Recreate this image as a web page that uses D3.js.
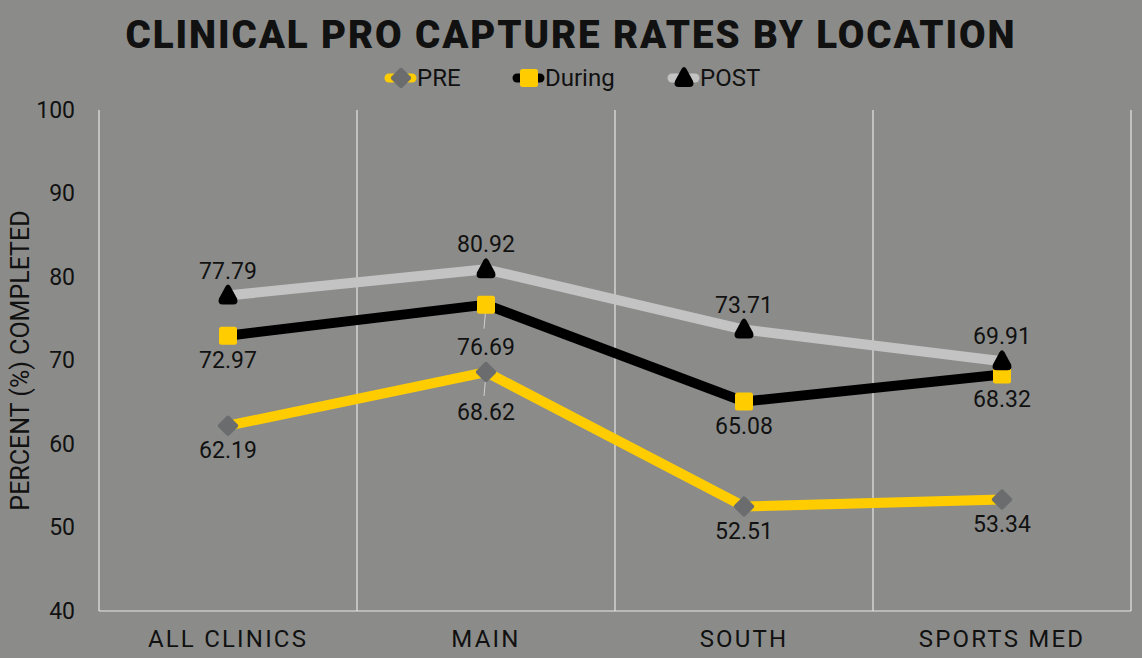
<!DOCTYPE html>
<html>
<head>
<meta charset="utf-8">
<script src="https://cdn.jsdelivr.net/npm/d3@7"></script>
<style>
  body { margin: 0; background: #8b8c8a; }
  svg text { font-family: Roboto, "Noto Sans", sans-serif; fill: #111; }
</style>
</head>
<body>
<script>
var categories = ["ALL CLINICS", "MAIN", "SOUTH", "SPORTS MED"];
var preValues = [62.19, 68.62, 52.51, 53.34];
var duringValues = [72.97, 76.69, 65.08, 68.32];
var postValues = [77.79, 80.92, 73.71, 69.91];
var yTicks = [40, 50, 60, 70, 80, 90, 100];

// label side per point: 1 = below, -1 = above
var preSide = [1, 1, 1, 1];
var duringSide = [1, 1, 1, 1];
var postSide = [-1, -1, -1, -1];

var width = 1142,
    height = 658;
var margin = {top: 110, right: 11, bottom: 47, left: 99};

var svg = d3.select("body").append("svg")
    .attr("width", width)
    .attr("height", height);

svg.append("rect").attr("width", width).attr("height", height).attr("fill", "#8b8c8a");

var x = d3.scaleBand()
    .domain(categories)
    .range([margin.left, width - margin.right])
    .padding(0);

var y = d3.scaleLinear()
    .domain([40, 100])
    .range([height - margin.bottom, margin.top]);

// title
svg.append("text")
    .attr("x", 571).attr("y", 48)
    .attr("text-anchor", "middle")
    .style("font-size", "38.5px")
    .style("font-weight", 900)
    .style("letter-spacing", "1.9px")
    .text("CLINICAL PRO CAPTURE RATES BY LOCATION");

// grid / frame lines
var gridX = categories.map(function(c) { return x(c); }).concat([width - margin.right]);
svg.append("g").selectAll("line")
    .data(gridX)
    .enter().append("line")
    .attr("x1", function(d) { return d; })
    .attr("x2", function(d) { return d; })
    .attr("y1", y(100))
    .attr("y2", y(40))
    .attr("stroke", "#e6e6e6")
    .attr("stroke-width", 1.2);

svg.append("line")
    .attr("x1", margin.left).attr("x2", width - margin.right)
    .attr("y1", y(40)).attr("y2", y(40))
    .attr("stroke", "#e6e6e6").attr("stroke-width", 1.2);

// y axis
var yAxis = svg.append("g")
    .attr("transform", "translate(" + margin.left + ",0)")
    .call(d3.axisLeft(y).tickValues(yTicks).tickSize(0).tickPadding(24));
yAxis.select(".domain").remove();
yAxis.selectAll("text").style("font-size", "23px").attr("fill", "#111");

svg.append("text")
    .attr("transform", "translate(20," + (y(70)) + ") rotate(-90)")
    .attr("text-anchor", "middle")
    .attr("dy", "0.35em")
    .style("font-size", "25px")
    .text("PERCENT (%) COMPLETED");

// x axis
var xAxis = svg.append("g")
    .attr("transform", "translate(0," + y(40) + ")")
    .call(d3.axisBottom(x).tickSize(0).tickPadding(19));
xAxis.select(".domain").remove();
xAxis.selectAll("text")
    .style("font-size", "24px")
    .style("letter-spacing", "2.2px")
    .attr("fill", "#111");

var cx = function(i) { return x(categories[i]) + x.bandwidth() / 2; };

var diamond = "M-1.5,-9.5Q0,-11 1.5,-9.5L9.5,-1.5Q11,0 9.5,1.5L1.5,9.5Q0,11 -1.5,9.5L-9.5,1.5Q-11,0 -9.5,-1.5Z";
var square = "M-6.5,-9L6.5,-9Q9,-9 9,-6.5L9,6.5Q9,9 6.5,9L-6.5,9Q-9,9 -9,6.5L-9,-6.5Q-9,-9 -6.5,-9Z";
var triangle = "M-2.5,-9Q0,-13 2.5,-9L9,3Q11,9 5,9L-5,9Q-11,9 -9,3Z";

var series = [
    {name: "PRE", values: preValues, side: preSide, line: "#ffcc00", marker: "#6b6c6e", shape: diamond},
    {name: "During", values: duringValues, side: duringSide, line: "#000000", marker: "#ffcc00", shape: square},
    {name: "POST", values: postValues, side: postSide, line: "#c3c3c3", marker: "#000000", shape: triangle}
];

var line = d3.line()
    .x(function(d, i) { return cx(i); })
    .y(function(d) { return y(d); });

// leader lines at MAIN
[0, 1].forEach(function(k) {
    var s = series[k];
    svg.append("line")
        .attr("x1", cx(1) - 2).attr("x2", cx(1))
        .attr("y1", y(s.values[1]) + 24).attr("y2", y(s.values[1]) + 2)
        .attr("stroke", "#d0d0d0").attr("stroke-width", 1);
});

series.forEach(function(s) {
    var g = svg.append("g");
    g.append("path")
        .datum(s.values)
        .attr("d", line)
        .attr("fill", "none")
        .attr("stroke", s.line)
        .attr("stroke-width", 10)
        .attr("stroke-linejoin", "round");
});

series.forEach(function(s) {
    var g = svg.append("g");
    g.selectAll("path.m")
        .data(s.values)
        .enter().append("path")
        .attr("class", "m")
        .attr("d", s.shape)
        .attr("fill", s.marker)
        .attr("transform", function(d, i) { return "translate(" + cx(i) + "," + y(d) + ")"; });
});

series.forEach(function(s) {
    svg.append("g").selectAll("text")
        .data(s.values)
        .enter().append("text")
        .attr("x", function(d, i) { return cx(i); })
        .attr("y", function(d, i) {
            var off = s.side[i] > 0 ? 24 : -25;
            if (s.name === "During" && i === 1) off = 42;
            if (s.name === "PRE" && i === 1) off = 40;
            return y(d) + off;
        })
        .attr("dy", "0.35em")
        .attr("text-anchor", "middle")
        .style("font-size", "23px")
        .text(function(d) { return d.toFixed(2); });
});

// legend
var legendX = [385, 513, 668];
var legend = svg.append("g").selectAll("g")
    .data(series)
    .enter().append("g")
    .attr("transform", function(d, i) { return "translate(" + legendX[i] + ",78)"; });

legend.append("line")
    .attr("x1", 4).attr("x2", 27)
    .attr("stroke", function(d) { return d.line; })
    .attr("stroke-width", 9)
    .attr("stroke-linecap", "round");
legend.append("path")
    .attr("d", function(d) { return d.shape; })
    .attr("transform", "translate(16,0)")
    .attr("fill", function(d) { return d.marker; });
legend.append("text")
    .attr("x", 32)
    .attr("dy", "0.35em")
    .style("font-size", "24px")
    .text(function(d) { return d.name; });
</script>
</body>
</html>
